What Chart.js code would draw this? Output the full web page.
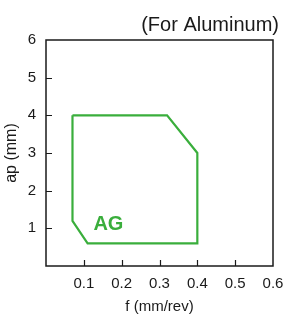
<!DOCTYPE html>
<html>
<head>
<meta charset="utf-8">
<script src="https://cdn.jsdelivr.net/npm/chart.js@4/dist/chart.umd.min.js"></script>
<style>
  html, body { margin: 0; padding: 0; background: #fff; }
  #wrap { width: 286px; height: 314px; }
</style>
</head>
<body>
<div id="wrap"><canvas id="c" width="286" height="314"></canvas></div>
<script>
// Region boundary (closed polygon) for grade AG
const feedValues = [0.07, 0.32, 0.40, 0.40, 0.11, 0.07, 0.07];
const depthValues = [4.0, 4.0, 3.0, 0.6, 0.6, 1.2, 4.0];
const regionLabel = 'AG';
const regionLabelPos = [0.165, 1.1];
const xTickValues = [0.1, 0.2, 0.3, 0.4, 0.5, 0.6];
const yTickValues = [1, 2, 3, 4, 5, 6];
const chartTitle = '(For Aluminum)';
const xTitle = 'f (mm/rev)';
const yTitle = 'ap (mm)';

const GREEN = '#3aae3c';
const INK = '#1a1a1a';

const framePlugin = {
  id: 'frame',
  afterDraw(chart) {
    const {ctx, chartArea: a, scales} = chart;
    ctx.save();
    ctx.strokeStyle = INK;
    ctx.lineWidth = 1.5;
    ctx.strokeRect(a.left, a.top, a.right - a.left, a.bottom - a.top);
    ctx.lineWidth = 1.2;
    ctx.beginPath();
    xTickValues.forEach(v => {
      if (v >= 0.6) return;
      const x = Math.round(scales.x.getPixelForValue(v)) + 0.5;
      ctx.moveTo(x, a.bottom);
      ctx.lineTo(x, a.bottom - 6);
    });
    yTickValues.forEach(v => {
      if (v >= 6) return;
      const y = Math.round(scales.y.getPixelForValue(v)) + 0.5;
      ctx.moveTo(a.left, y);
      ctx.lineTo(a.left + 6, y);
    });
    ctx.stroke();
    // region label
    ctx.fillStyle = GREEN;
    ctx.font = 'bold 20px "Liberation Sans", Arial, sans-serif';
    ctx.textAlign = 'center';
    ctx.textBaseline = 'middle';
    ctx.fillText(regionLabel,
      scales.x.getPixelForValue(regionLabelPos[0]),
      scales.y.getPixelForValue(regionLabelPos[1]));
    ctx.restore();
  }
};

new Chart(document.getElementById('c'), {
  type: 'scatter',
  data: {
    datasets: [{
      data: feedValues.map((f, i) => ({x: f, y: depthValues[i]})),
      showLine: true,
      borderColor: GREEN,
      backgroundColor: GREEN,
      borderWidth: 2.2,
      pointRadius: 0,
      tension: 0,
      fill: false
    }]
  },
  options: {
    responsive: false,
    animation: false,
    devicePixelRatio: 1,
    layout: { padding: { left: 0, right: 7, top: 0, bottom: 0 } },
    plugins: {
      legend: { display: false },
      tooltip: { enabled: false },
      title: {
        display: true,
        text: chartTitle,
        align: 'end',
        color: INK,
        font: { family: '"Liberation Sans", Arial, sans-serif', size: 20, weight: 'normal', lineHeight: 1.2 },
        padding: { top: 13, bottom: 3 }
      }
    },
    scales: {
      x: {
        type: 'linear',
        min: 0, max: 0.6,
        afterBuildTicks: s => { s.ticks = xTickValues.map(v => ({value: v})); },
        afterFit: s => { s.height = 48; s.paddingRight = 13; },
        grid: { display: false, drawTicks: false },
        border: { display: false },
        ticks: {
          color: INK,
          padding: 9,
          maxRotation: 0,
          font: { family: '"Liberation Sans", Arial, sans-serif', size: 15 },
          callback: v => v.toFixed(1)
        },
        title: {
          display: true,
          text: xTitle,
          color: INK,
          font: { family: '"Liberation Sans", Arial, sans-serif', size: 15, lineHeight: 1 },
          padding: { top: 0, bottom: 0 }
        }
      },
      y: {
        type: 'linear',
        min: 0, max: 6,
        afterBuildTicks: s => { s.ticks = yTickValues.map(v => ({value: v})); },
        afterFit: s => { s.width = 46; },
        grid: { display: false, drawTicks: false },
        border: { display: false },
        ticks: {
          color: INK,
          padding: 10,
          font: { family: '"Liberation Sans", Arial, sans-serif', size: 15 },
          callback: v => String(v)
        },
        title: {
          display: true,
          text: yTitle,
          color: INK,
          font: { family: '"Liberation Sans", Arial, sans-serif', size: 16, lineHeight: 1.2 },
          padding: { top: 2, bottom: 0 }
        }
      }
    }
  },
  plugins: [framePlugin]
});
</script>
</body>
</html>
